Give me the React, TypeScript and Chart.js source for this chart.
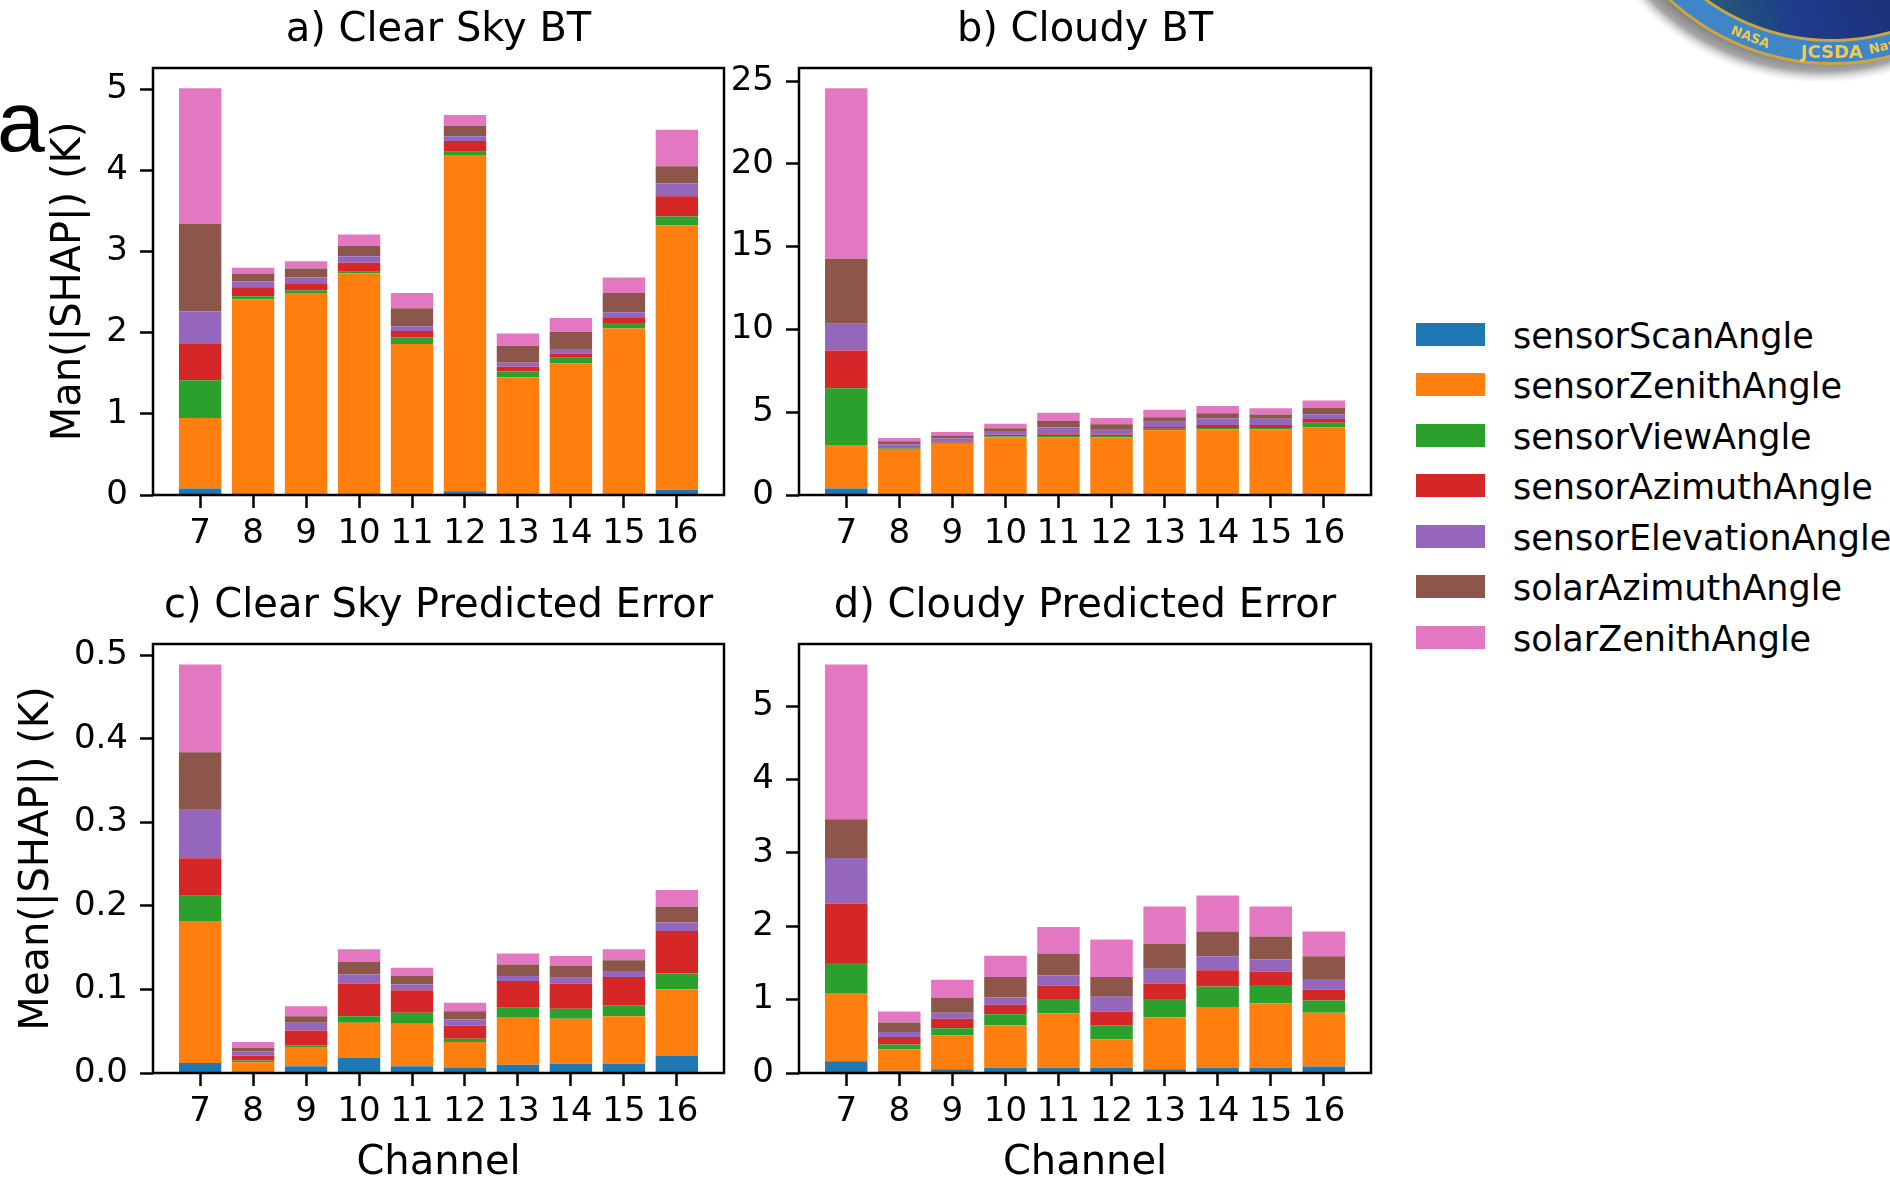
import React, { useEffect, useRef } from 'react';
import { Chart, registerables } from 'chart.js';

Chart.register(...registerables);

// ---------------------------------------------------------------------------
// Data
// ---------------------------------------------------------------------------
const channels = ['7', '8', '9', '10', '11', '12', '13', '14', '15', '16'];

const features = [
  'sensorScanAngle',
  'sensorZenithAngle',
  'sensorViewAngle',
  'sensorAzimuthAngle',
  'sensorElevationAngle',
  'solarAzimuthAngle',
  'solarZenithAngle',
];

const featureColors = ['#1f77b4', '#ff7f0e', '#2ca02c', '#d62728', '#9467bd', '#8c564b', '#e377c2'];

// Mean |SHAP| (K): one row per feature (stacked bottom to top), one column per channel
const clearSkyBT = [
  [0.08, 0.02, 0.01, 0.02, 0.01, 0.045, 0.01, 0.01, 0.02, 0.065],
  [0.87, 2.39, 2.47, 2.71, 1.85, 4.145, 1.44, 1.61, 2.03, 3.255],
  [0.465, 0.04, 0.04, 0.02, 0.08, 0.04, 0.07, 0.07, 0.07, 0.11],
  [0.445, 0.11, 0.09, 0.11, 0.08, 0.13, 0.06, 0.05, 0.07, 0.25],
  [0.4, 0.07, 0.07, 0.08, 0.06, 0.06, 0.05, 0.06, 0.06, 0.16],
  [1.08, 0.1, 0.11, 0.13, 0.22, 0.13, 0.21, 0.21, 0.24, 0.21],
  [1.67, 0.07, 0.09, 0.14, 0.19, 0.13, 0.15, 0.17, 0.19, 0.45],
];

const cloudyBT = [
  [0.4, 0.05, 0.05, 0.05, 0.05, 0.05, 0.05, 0.05, 0.05, 0.08],
  [2.62, 2.68, 3.04, 3.42, 3.42, 3.42, 3.86, 3.9, 3.9, 3.99],
  [3.42, 0.08, 0.07, 0.08, 0.1, 0.09, 0.09, 0.1, 0.1, 0.29],
  [2.28, 0.08, 0.07, 0.09, 0.1, 0.1, 0.1, 0.17, 0.17, 0.23],
  [1.62, 0.18, 0.2, 0.22, 0.4, 0.32, 0.32, 0.42, 0.38, 0.29],
  [3.93, 0.17, 0.17, 0.17, 0.4, 0.3, 0.28, 0.3, 0.26, 0.38],
  [10.29, 0.2, 0.2, 0.27, 0.5, 0.37, 0.45, 0.43, 0.38, 0.44],
];

const clearSkyError = [
  [0.012, 0.001, 0.008, 0.018, 0.008, 0.006, 0.01, 0.011, 0.011, 0.021],
  [0.17, 0.012, 0.023, 0.042, 0.051, 0.031, 0.056, 0.054, 0.057, 0.079],
  [0.03, 0.002, 0.002, 0.008, 0.013, 0.004, 0.012, 0.012, 0.013, 0.019],
  [0.045, 0.006, 0.018, 0.039, 0.027, 0.016, 0.032, 0.03, 0.034, 0.051],
  [0.059, 0.005, 0.009, 0.011, 0.007, 0.007, 0.006, 0.007, 0.007, 0.01],
  [0.068, 0.004, 0.008, 0.015, 0.01, 0.01, 0.014, 0.014, 0.013, 0.019],
  [0.105, 0.007, 0.012, 0.015, 0.01, 0.01, 0.013, 0.012, 0.013, 0.02],
];

const cloudyError = [
  [0.16, 0.03, 0.05, 0.07, 0.07, 0.07, 0.05, 0.07, 0.07, 0.09],
  [0.93, 0.29, 0.46, 0.58, 0.74, 0.39, 0.71, 0.83, 0.88, 0.73],
  [0.41, 0.07, 0.1, 0.15, 0.2, 0.19, 0.25, 0.28, 0.25, 0.17],
  [0.81, 0.1, 0.13, 0.13, 0.18, 0.19, 0.21, 0.22, 0.18, 0.15],
  [0.62, 0.07, 0.08, 0.1, 0.14, 0.2, 0.2, 0.19, 0.17, 0.14],
  [0.53, 0.13, 0.21, 0.28, 0.3, 0.27, 0.34, 0.34, 0.31, 0.31],
  [2.11, 0.15, 0.24, 0.29, 0.36, 0.51, 0.51, 0.49, 0.41, 0.34],
];

const ticksClearBT = [0, 1, 2, 3, 4, 5];
const ticksCloudyBT = [0, 5, 10, 15, 20, 25];
const ticksClearError = [0, 0.1, 0.2, 0.3, 0.4, 0.5];
const ticksCloudyError = [0, 1, 2, 3, 4, 5];

const tickTextClearBT = ['0', '1', '2', '3', '4', '5'];
const tickTextCloudyBT = ['0', '5', '10', '15', '20', '25'];
const tickTextClearError = ['0.0', '0.1', '0.2', '0.3', '0.4', '0.5'];
const tickTextCloudyError = ['0', '1', '2', '3', '4', '5'];

// ---------------------------------------------------------------------------
// Layout & style
// ---------------------------------------------------------------------------
const FONT = "'DejaVu Sans', 'Noto Sans', sans-serif";
const TITLE_SIZE = 40;
const LABEL_SIZE = 40;
const TICK_SIZE = 34;
const LINE_W = 2.5;

type Box = { left: number; top: number; width: number; height: number };
type Frame = { left: number; top: number; right: number; bottom: number };

type PanelSpec = {
  title: string;
  yLabel?: string;
  xLabel?: string;
  rows: number[][];
  yTicks: number[];
  yTickText: string[];
  box: Box;
  frame: Frame;
  titleY: number;
  yLabelX?: number;
  xLabelY?: number;
};

const panels: PanelSpec[] = [
  {
    title: 'a) Clear Sky BT',
    yLabel: 'Man(|SHAP|) (K)',
    rows: clearSkyBT,
    yTicks: ticksClearBT,
    yTickText: tickTextClearBT,
    box: { left: 0, top: 0, width: 740, height: 580 },
    frame: { left: 153, top: 68, right: 724, bottom: 495 },
    titleY: 31,
    yLabelX: 70,
  },
  {
    title: 'b) Cloudy BT',
    rows: cloudyBT,
    yTicks: ticksCloudyBT,
    yTickText: tickTextCloudyBT,
    box: { left: 700, top: 0, width: 690, height: 580 },
    frame: { left: 799, top: 68, right: 1371, bottom: 495 },
    titleY: 31,
  },
  {
    title: 'c) Clear Sky Predicted Error',
    yLabel: 'Mean(|SHAP|) (K)',
    xLabel: 'Channel',
    rows: clearSkyError,
    yTicks: ticksClearError,
    yTickText: tickTextClearError,
    box: { left: 0, top: 580, width: 740, height: 598 },
    frame: { left: 153, top: 644, right: 724, bottom: 1073 },
    titleY: 607,
    yLabelX: 38,
    xLabelY: 1164,
  },
  {
    title: 'd) Cloudy Predicted Error',
    xLabel: 'Channel',
    rows: cloudyError,
    yTicks: ticksCloudyError,
    yTickText: tickTextCloudyError,
    box: { left: 700, top: 580, width: 690, height: 598 },
    frame: { left: 799, top: 644, right: 1371, bottom: 1073 },
    titleY: 607,
    xLabelY: 1164,
  },
];

// Full box around the plotting area, drawn over the bars like axes spines
const spinesPlugin = {
  id: 'spines',
  afterDatasetsDraw(chart: any) {
    const { ctx, chartArea } = chart;
    const { left, top, right, bottom } = chartArea;
    ctx.save();
    ctx.strokeStyle = '#000';
    ctx.lineWidth = LINE_W;
    ctx.strokeRect(left, top, right - left, bottom - top);
    ctx.restore();
  },
};

function buildConfig(p: PanelSpec): any {
  const totals = channels.map((_, i) => p.rows.reduce((s, r) => s + r[i], 0));
  const yTop = Math.max(...totals) * 1.05;
  const { box, frame } = p;
  const yAxisWidth = frame.left - box.left;
  const xAxisHeight = box.top + box.height - frame.bottom;
  const padRight = box.left + box.width - frame.right;
  const titleLH = TITLE_SIZE * 1.2;
  const titlePadTop = p.titleY - box.top - titleLH / 2;
  const titlePadBottom = frame.top - box.top - titlePadTop - titleLH;
  const labelLH = LABEL_SIZE * 1.2;

  const tickFont = { family: FONT, size: TICK_SIZE, lineHeight: 1.2 };
  const labelFont = { family: FONT, size: LABEL_SIZE, lineHeight: 1.2 };
  const grid = {
    display: true,
    drawOnChartArea: false,
    drawTicks: true,
    offset: false,
    tickLength: 13,
    tickWidth: LINE_W,
    tickColor: '#000',
  };

  return {
    type: 'bar',
    data: {
      datasets: features.map((name, k) => ({
        label: name,
        data: p.rows[k].map((v, i) => ({ x: i, y: v })),
        backgroundColor: featureColors[k],
        borderWidth: 0,
        barPercentage: 0.8,
        categoryPercentage: 1,
      })),
    },
    options: {
      responsive: false,
      animation: false,
      events: [],
      layout: { padding: { left: 0, top: 0, right: padRight, bottom: 0 } },
      plugins: {
        legend: { display: false },
        tooltip: { enabled: false },
        title: {
          display: true,
          text: p.title,
          fullSize: false,
          color: '#000',
          font: { family: FONT, size: TITLE_SIZE, weight: 'normal', lineHeight: 1.2 },
          padding: { top: titlePadTop, bottom: titlePadBottom },
        },
      },
      scales: {
        x: {
          type: 'linear',
          stacked: true,
          offset: false,
          min: -0.89,
          max: 9.89,
          afterBuildTicks: (s: any) => {
            s.ticks = channels.map((_, i) => ({ value: i }));
          },
          afterFit: (s: any) => {
            s.height = xAxisHeight;
          },
          ticks: {
            callback: (_v: any, i: number) => channels[i],
            color: '#000',
            font: tickFont,
            padding: 6,
            autoSkip: false,
            maxRotation: 0,
            minRotation: 0,
          },
          grid,
          border: { display: false },
          title: p.xLabel
            ? {
                display: true,
                text: p.xLabel,
                color: '#000',
                font: labelFont,
                padding: { top: 0, bottom: box.top + box.height - labelLH / 2 - (p.xLabelY as number) },
              }
            : { display: false },
        },
        y: {
          type: 'linear',
          stacked: true,
          min: 0,
          max: yTop,
          afterBuildTicks: (s: any) => {
            s.ticks = p.yTicks.map((v) => ({ value: v }));
          },
          afterFit: (s: any) => {
            s.width = yAxisWidth;
          },
          ticks: {
            callback: (_v: any, i: number) => p.yTickText[i],
            color: '#000',
            font: tickFont,
            padding: 12,
          },
          grid,
          border: { display: false },
          title: p.yLabel
            ? {
                display: true,
                text: p.yLabel,
                color: '#000',
                font: labelFont,
                padding: { top: (p.yLabelX as number) - box.left - labelLH / 2, bottom: 0 },
              }
            : { display: false },
        },
      },
    },
    plugins: [spinesPlugin],
  };
}

function Panel({ spec }: { spec: PanelSpec }) {
  const ref = useRef<HTMLCanvasElement | null>(null);
  useEffect(() => {
    if (!ref.current) return;
    const chart = new Chart(ref.current, buildConfig(spec));
    return () => chart.destroy();
  }, [spec]);
  const { box } = spec;
  return (
    <canvas
      ref={ref}
      width={box.width}
      height={box.height}
      style={{
        position: 'absolute',
        left: box.left,
        top: box.top,
        width: box.width,
        height: box.height,
      }}
    />
  );
}

// Partially visible JCSDA seal in the top-right corner
function Seal() {
  const ref = useRef<HTMLCanvasElement | null>(null);
  useEffect(() => {
    const c = ref.current;
    if (!c) return;
    const ctx = c.getContext('2d');
    if (!ctx) return;
    const ox = 1590;
    ctx.clearRect(0, 0, c.width, c.height);
    ctx.save();
    ctx.translate(-ox, 0);
    const cx = 1832;
    const cy = -175;
    const r = 240;
    // soft drop shadow
    const sx = cx - 10;
    const sy = cy + 6;
    const g = ctx.createRadialGradient(sx, sy, r - 14, sx, sy, r + 12);
    g.addColorStop(0, 'rgba(120,120,120,1)');
    g.addColorStop(0.55, 'rgba(150,150,150,0.85)');
    g.addColorStop(1, 'rgba(210,210,210,0)');
    ctx.fillStyle = g;
    ctx.beginPath();
    ctx.arc(sx, sy, r + 12, 0, Math.PI * 2);
    ctx.fill();
    // rim
    ctx.fillStyle = '#c9a544';
    ctx.beginPath();
    ctx.arc(cx, cy, r, 0, Math.PI * 2);
    ctx.fill();
    ctx.fillStyle = '#3f86c8';
    ctx.beginPath();
    ctx.arc(cx, cy, r - 3, 0, Math.PI * 2);
    ctx.fill();
    ctx.fillStyle = '#c9a544';
    ctx.beginPath();
    ctx.arc(cx, cy, r - 23, 0, Math.PI * 2);
    ctx.fill();
    // inner globe
    const gi = ctx.createLinearGradient(cx - 200, cy + 200, cx + 100, cy + 100);
    gi.addColorStop(0, '#2a7a5a');
    gi.addColorStop(0.5, '#1f3c8c');
    gi.addColorStop(1, '#1a2a6e');
    ctx.fillStyle = gi;
    ctx.beginPath();
    ctx.arc(cx, cy, r - 26, 0, Math.PI * 2);
    ctx.fill();
    // ring lettering
    ctx.fillStyle = '#f2c94c';
    ctx.textAlign = 'center';
    ctx.textBaseline = 'middle';
    const words: [string, number, number][] = [
      ['NASA', 111, 13],
      ['JCSDA', 90, 18],
      ['Navy', 76, 13],
    ];
    for (const [w, deg, size] of words) {
      const a = (deg * Math.PI) / 180;
      const tr = r - 12;
      ctx.save();
      ctx.translate(cx + tr * Math.cos(a), cy + tr * Math.sin(a));
      ctx.rotate(a - Math.PI / 2);
      ctx.font = `bold ${size}px 'DejaVu Sans', sans-serif`;
      ctx.fillText(w, 0, 0);
      ctx.restore();
    }
    ctx.restore();
  }, []);
  return (
    <canvas
      ref={ref}
      width={300}
      height={110}
      style={{ position: 'absolute', left: 1590, top: 0, width: 300, height: 110 }}
    />
  );
}

function Legend() {
  const left = 1416;
  const firstY = 334;
  const step = 50.5;
  return (
    <>
      {features.map((name, k) => (
        <div
          key={name}
          style={{
            position: 'absolute',
            left,
            top: firstY + k * step - 25,
            height: 50,
            display: 'flex',
            alignItems: 'center',
            whiteSpace: 'nowrap',
          }}
        >
          <div style={{ width: 69, height: 23, background: featureColors[k] }} />
          <div
            style={{
              marginLeft: 28,
              fontFamily: FONT,
              fontSize: 35,
              lineHeight: 1,
              color: '#000',
              position: 'relative',
              top: 2,
            }}
          >
            {name}
          </div>
        </div>
      ))}
    </>
  );
}

export default function App() {
  return (
    <div
      style={{
        position: 'fixed',
        left: 0,
        top: 0,
        width: 1890,
        height: 1178,
        background: '#fff',
        overflow: 'hidden',
      }}
    >
      {panels.map((p) => (
        <Panel key={p.title} spec={p} />
      ))}
      <Legend />
      <Seal />
      <div
        style={{
          position: 'absolute',
          left: -3,
          top: 78,
          fontFamily: "'Liberation Sans', Arial, sans-serif",
          fontSize: 86,
          lineHeight: 1,
          color: '#000',
        }}
      >
        a
      </div>
    </div>
  );
}
